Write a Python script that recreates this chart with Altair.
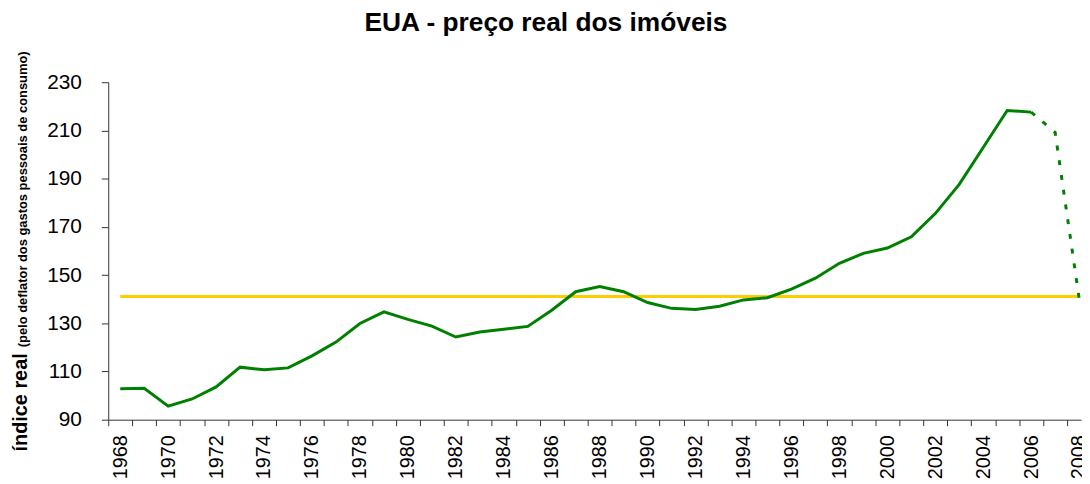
import altair as alt
import pandas as pd

# ---- data ----
years = list(range(1968, 2007))
values = [102.8, 103.0, 95.6, 98.6, 103.6, 111.8, 110.7, 111.5, 116.5, 122.2,
          129.9, 134.7, 131.6, 128.8, 124.3, 126.4, 127.5, 128.7, 135.4, 143.1,
          145.2, 143.1, 138.6, 136.2, 135.7, 137.1, 139.7, 140.6, 144.2, 148.7,
          154.9, 159.0, 161.2, 165.9, 175.5, 187.6, 202.9, 218.3, 217.6]
proj_years = [2006, 2007, 2008]
proj_values = [217.6, 209.2, 140.5]
avg_start = [1968]
avg_end = [2008]
avg_value = [141.1]
y_ticks = [90, 110, 130, 150, 170, 190, 210, 230]
x_tick_edges = [1967.5 + k for k in range(41)]

title_text = ["EUA - preço real dos imóveis"]
ytitle_main = ["índice real"]
ytitle_sub = ["(pelo deflator dos gastos pessoais de consumo)"]

FONT = "Liberation Sans"
GREEN = "#008000"
YELLOW = "#FFCC00"

df_main = pd.DataFrame({"ano": years, "indice": values})
df_proj = pd.DataFrame({"ano": proj_years, "indice": proj_values})
df_avg = pd.DataFrame({"ano": avg_start, "ano2": avg_end, "indice": avg_value})

xscale = alt.Scale(domain=[1967.5, 2008.08], nice=False, zero=False)
yscale = alt.Scale(domain=[90, 230], nice=False, zero=False)

xaxis = alt.Axis(
    values=x_tick_edges,
    labelExpr="(datum.value + 0.5) % 2 == 0 ? toString(datum.value + 0.5) : ''",
    labelOffset=12,
    labelAngle=270,
    labelFontSize=20,
    labelPadding=9,
    tickSize=6,
    grid=False,
    title=None,
    labelOverlap=False,
    labelFlush=False,
    labelBound=False,
)
yaxis = alt.Axis(
    values=y_ticks,
    labelFontSize=21,
    labelPadding=20,
    tickSize=7,
    grid=False,
    title=None,
)

avg = alt.Chart(df_avg).mark_rule(color=YELLOW, strokeWidth=3).encode(
    x=alt.X("ano:Q", scale=xscale, axis=xaxis),
    x2="ano2:Q",
    y=alt.Y("indice:Q", scale=yscale, axis=yaxis),
)

main = alt.Chart(df_main).mark_line(color=GREEN, strokeWidth=3).encode(
    x=alt.X("ano:Q", scale=xscale, axis=xaxis),
    y=alt.Y("indice:Q", scale=yscale, axis=yaxis),
)

proj = alt.Chart(df_proj).mark_line(color=GREEN, strokeWidth=3, strokeDash=[5, 10]).encode(
    x=alt.X("ano:Q", scale=xscale, axis=xaxis),
    y=alt.Y("indice:Q", scale=yscale, axis=yaxis),
)

title = alt.Chart(pd.DataFrame({"t": title_text})).mark_text(
    font=FONT, fontSize=26.5, fontWeight="bold", align="center", baseline="alphabetic", color="black"
).encode(x=alt.value(441), y=alt.value(-52), text="t:N")

ytit_main = alt.Chart(pd.DataFrame({"t": ytitle_main})).mark_text(
    font=FONT, fontSize=20, fontWeight="bold", align="left", baseline="alphabetic",
    angle=270, color="black"
).encode(x=alt.value(-82), y=alt.value(372), text="t:N")

ytit_sub = alt.Chart(pd.DataFrame({"t": ytitle_sub})).mark_text(
    font=FONT, fontSize=13, fontWeight="bold", align="left", baseline="alphabetic",
    angle=270, color="black"
).encode(x=alt.value(-82), y=alt.value(267), text="t:N")

chart = alt.layer(avg, main, proj, title, ytit_main, ytit_sub).properties(
    width=980,
    height=340,
    autosize=alt.AutoSizeParams(type="none"),
    padding={"left": 101, "top": 73, "right": 1, "bottom": 63},
    background="white",
).configure_view(stroke=None).configure_axis(
    labelFont=FONT,
    labelColor="black",
    domainColor="#333333",
    tickColor="#333333",
    domainWidth=1,
    tickWidth=1,
)

chart.save("out.html", embed_options={"renderer": "svg", "actions": False})
